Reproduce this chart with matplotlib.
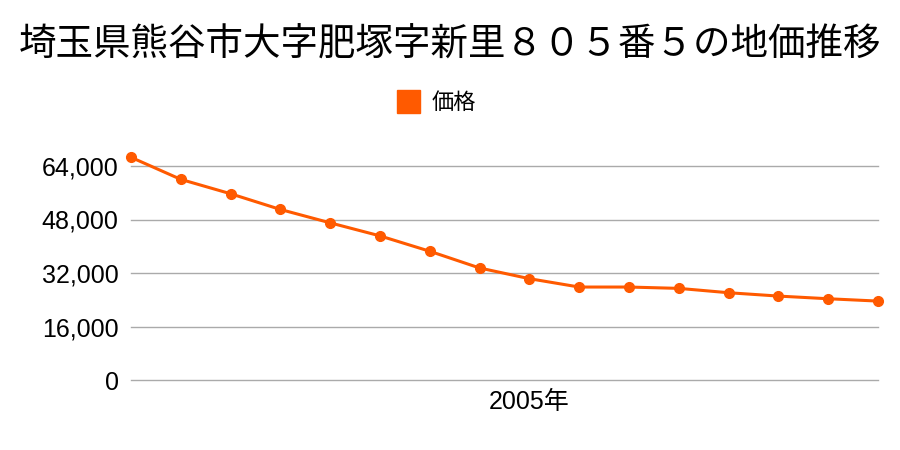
import matplotlib
matplotlib.use('Agg')
import matplotlib.pyplot as plt
from matplotlib.ticker import FuncFormatter

plt.rcParams['font.family'] = ['Noto Sans CJK JP', 'DejaVu Sans']

title = '埼玉県熊谷市大字肥塚字新里８０５番５の地価推移'
series_name = '価格'
years = list(range(1997, 2013))
prices = [66600, 60000, 55700, 51000, 47000, 43100, 38500, 33500,
          30300, 27800, 27800, 27400, 26100, 25100, 24300, 23600]
yticks = [0, 16000, 32000, 48000, 64000]
xtick_years = [2005]
color = '#ff5a00'
tick_font = ['Liberation Sans', 'Noto Sans CJK JP']

fig = plt.figure(figsize=(9, 4.5), dpi=100)
ax = fig.add_axes([131 / 900, 1 - 380 / 450, (878 - 131) / 900, (380 - 135) / 450])

ax.plot(years, prices, color=color, lw=2.2, marker='o', ms=7, clip_on=False,
        zorder=3, label=series_name)

ax.set_xlim(years[0], years[-1])
ax.set_ylim(0, 245 * 64000 / 214)
ax.set_yticks(yticks)
ax.yaxis.set_major_formatter(FuncFormatter(lambda v, p: f'{int(v):,}'))
ax.set_xticks(xtick_years)
ax.set_xticklabels([f'{y}年' for y in xtick_years])
ax.grid(axis='y', color='#aaaaaa', lw=1)
for gl in ax.get_ygridlines():
    gl.set_clip_on(False)
ax.set_axisbelow(True)
for s in ax.spines.values():
    s.set_visible(False)
ax.tick_params(length=0, labelsize=18, colors='black')
ax.tick_params(axis='y', pad=9)
ax.tick_params(axis='x', pad=7)
for lab in ax.get_xticklabels() + ax.get_yticklabels():
    lab.set_family(tick_font)

fig.text(0.5, 1 - 45 / 450, title, ha='center', va='center', fontsize=27)

# legend
fig.patches.append(plt.Rectangle((397 / 900, 1 - 113 / 450), 23 / 900, 23 / 450,
                                 transform=fig.transFigure, color=color, figure=fig))
fig.text(432 / 900, 1 - 102 / 450, series_name, ha='left', va='center', fontsize=16)

fig.savefig('out.png', dpi=100)
